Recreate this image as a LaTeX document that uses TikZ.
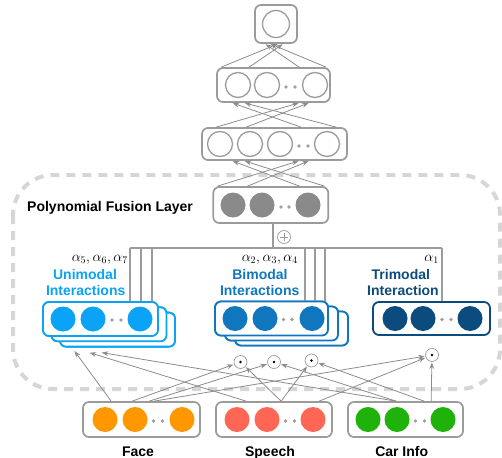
\documentclass[tikz,border=0pt]{standalone}
\usepackage{fontspec}
\setmainfont{Liberation Sans}
\usetikzlibrary{arrows.meta}

\definecolor{boxgray}{HTML}{9B9B9B}
\definecolor{arrgray}{HTML}{8C8C8C}
\definecolor{fusegray}{HTML}{8A8A8A}
\definecolor{dashgray}{HTML}{D6D6D6}
\definecolor{dotgray}{HTML}{A0A0A0}
\definecolor{unicol}{HTML}{0AA3F5}
\definecolor{bicol}{HTML}{1076BD}
\definecolor{tricol}{HTML}{0C4B7D}
\definecolor{facecol}{HTML}{FF9800}
\definecolor{speechcol}{HTML}{FF6655}
\definecolor{carcol}{HTML}{1EB20A}

\tikzset{
  lbox/.style={draw=boxgray, line width=1.7pt, rounded corners=6pt, fill=white, inner sep=0pt},
  cbox/.style={draw=#1, line width=1.8pt, rounded corners=6pt, fill=white, inner sep=0pt,
               minimum height=34pt},
  unit/.style={circle, inner sep=0pt, minimum size=25pt},
  hollow/.style={unit, draw=boxgray, line width=1.3pt, fill=white},
  solid unit/.style={unit, fill=#1},
  dotmark/.style={circle, fill=dotgray, inner sep=0pt, minimum size=3.8pt},
  arr/.style={draw=arrgray, line width=0.8pt, shorten >=0.6pt, -{Stealth[length=6.5pt,width=4.8pt]}},
  link/.style={draw=boxgray, line width=1.2pt},
  opnode/.style={circle, draw=boxgray, line width=0.7pt, fill=white, inner sep=0pt, minimum size=13pt},
  lbl/.style={font=\fontsize{14}{16}\selectfont\bfseries, inner sep=0pt, anchor=base},
  albl/.style={font=\fontsize{14}{16}\selectfont, inner sep=0pt, anchor=base east},
}

\begin{document}
\begin{tikzpicture}[x=1pt, y=-1pt]
\useasboundingbox (0,0) rectangle (502,457);

% ---------- dashed frame of the fusion layer ----------
\draw[dashgray, line width=4pt, dash pattern=on 9pt off 7pt, rounded corners=40pt]
  (13,175) rectangle (500,389);
\node[lbl, anchor=base west] (fuselabel) at (27,211.5) {Polynomial Fusion Layer};

% ---------- output unit ----------
\node[lbox, minimum width=42pt, minimum height=38pt] (outbox) at (276,24) {};
\node[hollow, minimum size=27pt] (out) at (276,24) {};

% ---------- hidden layer 2 ----------
\node[lbox, minimum width=113pt, minimum height=34pt] (h2box) at (273.5,85) {};
\foreach \x/\n in {238/a,267/b,315/c} \node[hollow] (h2\n) at (\x,85) {};
\foreach \x/\n in {286/a,295/b} \node[dotmark] (h2d\n) at (\x,87) {};

% ---------- hidden layer 1 ----------
\node[lbox, minimum width=145pt, minimum height=32pt] (h3box) at (274.5,144) {};
\foreach \x/\n in {220/a,250/b,280/c,327/d} \node[hollow] (h3\n) at (\x,144) {};
\foreach \x/\n in {299/a,308/b} \node[dotmark] (h3d\n) at (\x,146) {};

% ---------- fusion output ----------
\node[lbox, minimum width=115pt, minimum height=36pt] (fusbox) at (270.8,205) {};
\foreach \x/\n in {233/a,262/b,308/c} \node[solid unit=fusegray] (fu\n) at (\x,205) {};
\foreach \x/\n in {281/a,289/b} \node[dotmark] (fud\n) at (\x,207) {};

% ---------- connectors between the stacked layers ----------
\draw[arr] ([xshift=5pt]h2box.north west)   -- ([xshift=24pt]outbox.south west);
\draw[arr] ([xshift=33pt]h2box.north west)  -- ([xshift=29pt]outbox.south west);
\draw[arr] ([xshift=83pt]h2box.north west)  -- ([xshift=11pt]outbox.south west);
\draw[arr] ([xshift=110pt]h2box.north west) -- ([xshift=16pt]outbox.south west);

\draw[arr] ([xshift=15pt]h3box.north west)  -- ([xshift=83pt]h2box.south west);
\draw[arr] ([xshift=45pt]h3box.north west)  -- ([xshift=93pt]h2box.south west);
\draw[arr] ([xshift=100pt]h3box.north west) -- ([xshift=16pt]h2box.south west);
\draw[arr] ([xshift=135pt]h3box.north west) -- ([xshift=28pt]h2box.south west);

\draw[arr] ([xshift=5pt]fusbox.north west)   -- ([xshift=98pt]h3box.south west);
\draw[arr] ([xshift=35pt]fusbox.north west)  -- ([xshift=108pt]h3box.south west);
\draw[arr] ([xshift=87pt]fusbox.north west)  -- ([xshift=31pt]h3box.south west);
\draw[arr] ([xshift=112pt]fusbox.north west) -- ([xshift=43pt]h3box.south west);

% ---------- summation bus ----------
\coordinate (jt) at (273,248);
\coordinate (jl) at (130,248);
\coordinate (jr) at (442,248);
\draw[link] (jt |- fusbox.south) -- (jt);
\draw[link] (jl) -- (jr);
\node[opnode, path picture={
    \draw[boxgray, line width=0.8pt]
      ([xshift=-3.6pt]path picture bounding box.center) -- ([xshift=3.6pt]path picture bounding box.center)
      ([yshift=-3.6pt]path picture bounding box.center) -- ([yshift=3.6pt]path picture bounding box.center);}]
  (sum) at (284,237) {};

% ---------- interaction stacks ----------
\foreach \k in {0,1,2} {
  \coordinate (ju\k) at ({130+\k*11},248);
  \coordinate (jb\k) at ({305+\k*10},248);
}
\coordinate (jtr) at (442,248);

% stacked boxes: place them, run the bus lines down to each, then draw them on top
\foreach \k in {2,1,0} {
  \node[cbox=unicol, minimum width=115pt] (uni\k) at ({100.5+8.5*\k},{319+5.3*\k}) {};
  \node[cbox=bicol, minimum width=113pt] (bi\k) at ({271.5+10*\k},{318.5+5*\k}) {};
}
\node[cbox=tricol, minimum width=117pt, minimum height=33pt] (tri) at (431.5,318.5) {};
\foreach \k in {2,1,0} {
  \draw[link] (ju\k) -- (ju\k |- uni\k.north);
  \draw[link] (jb\k) -- (jb\k |- bi\k.north);
}
\draw[link] (jtr) -- (jtr |- tri.north);
\foreach \k in {2,1,0} {
  \node[cbox=unicol, minimum width=115pt] (unif\k) at ({100.5+8.5*\k},{319+5.3*\k}) {};
  \node[cbox=bicol, minimum width=113pt] (bif\k) at ({271.5+10*\k},{318.5+5*\k}) {};
}
\foreach \x/\n in {63/a,93/b,140/c} \node[solid unit=unicol] (un\n) at (\x,319) {};
\foreach \x/\n in {112/a,121/b} \node[dotmark] (und\n) at (\x,320) {};
\foreach \x/\n in {235/a,265/b,312/c} \node[solid unit=bicol] (bn\n) at (\x,318.5) {};
\foreach \x/\n in {283.5/a,292/b} \node[dotmark] (bnd\n) at (\x,319.5) {};
\foreach \x/\n in {395/a,423/b,470/c} \node[solid unit=tricol] (tn\n) at (\x,318.5) {};
\foreach \x/\n in {442/a,451/b} \node[dotmark] (tnd\n) at (\x,319.5) {};

% ---------- labels ----------
\node[albl] (ua) at (128,261.5) {$\alpha_5, \alpha_6, \alpha_7$};
\node[albl] (ba) at (298,261.5) {$\alpha_2, \alpha_3, \alpha_4$};
\node[albl] (ta) at (439,261.5) {$\alpha_1$};
\node[lbl, text=unicol] (ut1) at (85,279) {Unimodal};
\node[lbl, text=unicol] (ut2) at (85.7,295) {Interactions};
\node[lbl, text=bicol] (bt1) at (260,279) {Bimodal};
\node[lbl, text=bicol] (bt2) at (259.7,295) {Interactions};
\node[lbl, text=tricol] (tt1) at (400.8,279) {Trimodal};
\node[lbl, text=tricol] (tt2) at (403,295) {Interaction};

% ---------- product nodes ----------
\foreach \n/\x/\y in {o1/240.5/362, o2/274/362, o3/311.5/360.5, o4/432/355}
  \node[opnode, path picture={\fill[black] (path picture bounding box.center) circle (1.3pt);}]
    (\n) at (\x,\y) {};

% ---------- input modalities ----------
\node[lbox, minimum width=117pt, minimum height=35pt] (face) at (141.5,419.5) {};
\foreach \x/\n in {105/a,135/b,182/c} \node[solid unit=facecol] (fc\n) at (\x,419.5) {};
\foreach \x/\n in {153.5/a,162.5/b} \node[dotmark] (fcd\n) at (\x,421) {};

\node[lbox, minimum width=116pt, minimum height=35pt] (speech) at (274,419.5) {};
\foreach \x/\n in {237/a,267/b,313/c} \node[solid unit=speechcol] (sp\n) at (\x,419.5) {};
\foreach \x/\n in {285.5/a,294.5/b} \node[dotmark] (spd\n) at (\x,421) {};

\node[lbox, minimum width=115pt, minimum height=35pt] (car) at (405.5,419.5) {};
\foreach \x/\n in {368/a,397/b,443/c} \node[solid unit=carcol] (cr\n) at (\x,419.5) {};
\foreach \x/\n in {415.5/a,424.5/b} \node[dotmark] (crd\n) at (\x,421) {};

\node[lbl] (facelbl) at (138,456) {Face};
\node[lbl] (speechlbl) at (270,456) {Speech};
\node[lbl] (carlbl) at (401.7,456) {Car Info};

% ---------- connectors from the inputs ----------
% unimodal terms
\draw[arr] ([xshift=29pt]face.north west)   -- ([xshift=15pt,yshift=-3pt]uni2.south west);
\draw[arr] ([xshift=31pt]speech.north west) -- ([xshift=30pt,yshift=-5pt]uni2.south west);
\draw[arr] ([xshift=49pt]car.north west)    -- ([xshift=42pt,yshift=-5pt]uni2.south west);
% bimodal products
\draw[arr] ([xshift=50pt]face.north west)   -- (o1);
\draw[arr] ([xshift=66pt]speech.north west) -- (o1);
\draw[arr] ([xshift=67pt]face.north west)   -- (o2);
\draw[arr] ([xshift=49pt]car.north west)    -- (o2);
\draw[arr] ([xshift=66pt]speech.north west) -- (o3);
\draw[arr] ([xshift=77pt]car.north west)    -- (o3);
% trimodal product
\draw[arr] ([xshift=72pt]face.north west)   -- (o4);
\draw[arr] ([xshift=104pt]speech.north west) -- (o4);
\draw[arr] ([xshift=84pt]car.north west)    -- (o4);
\end{tikzpicture}
\end{document}
